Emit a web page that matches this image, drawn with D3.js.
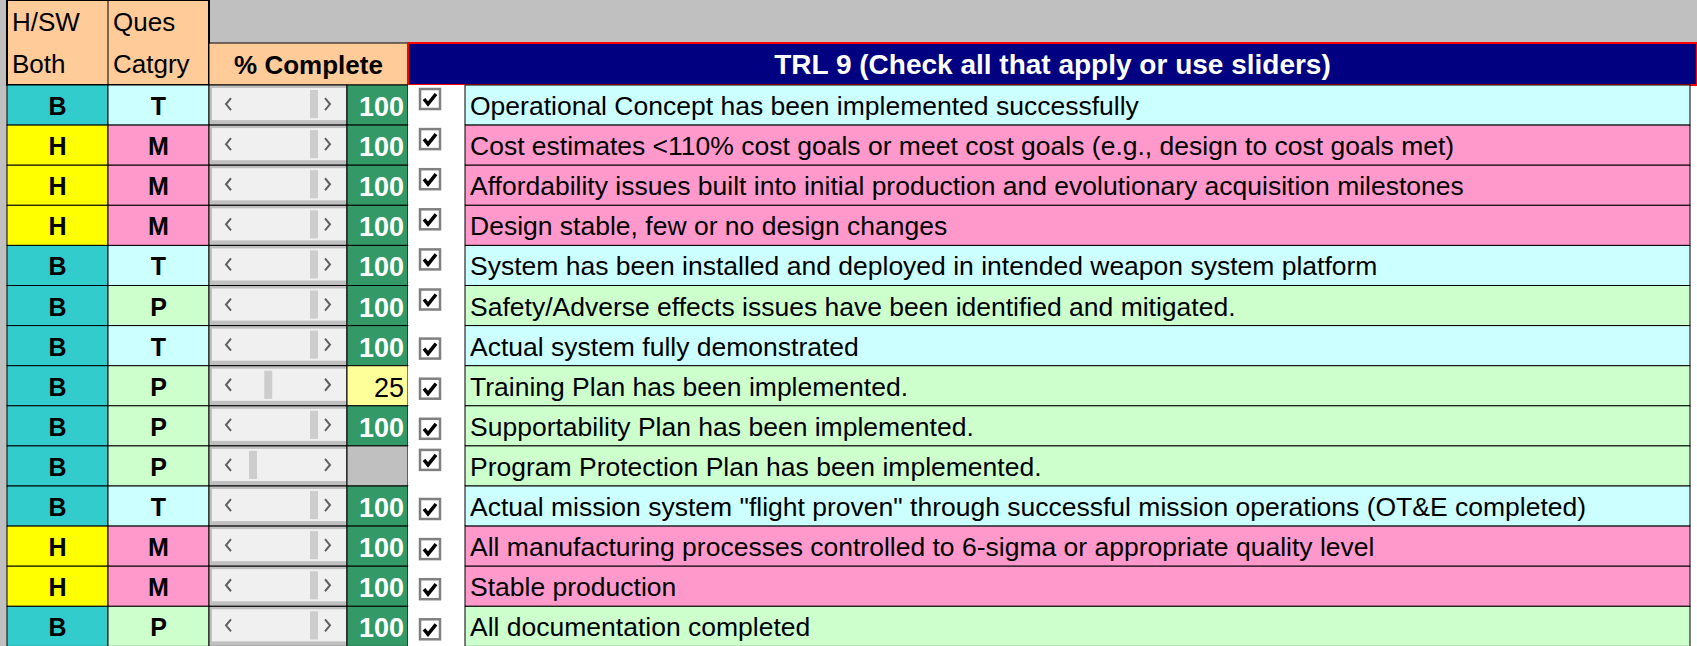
<!DOCTYPE html>
<html><head><meta charset="utf-8">
<script src="https://cdn.jsdelivr.net/npm/d3@7"></script>
<style>body{margin:0;background:#fff}svg{display:block;font-family:"Liberation Sans",Arial,sans-serif}</style>
</head><body><svg id="svg" width="1697" height="646"></svg>
<script>
const hw = ['B','H','H','H','B','B','B','B','B','B','B','H','H','B'];
const cat = ['T','M','M','M','T','P','T','P','P','P','T','M','M','P'];
const pct = [100,100,100,100,100,100,100,25,100,null,100,100,100,100];
const items = [
  'Operational Concept has been implemented successfully',
  'Cost estimates <110% cost goals or meet cost goals (e.g., design to cost goals met)',
  'Affordability issues built into initial production and evolutionary acquisition milestones',
  'Design stable, few or no design changes',
  'System has been installed and deployed in intended weapon system platform',
  'Safety/Adverse effects issues have been identified and mitigated.',
  'Actual system fully demonstrated',
  'Training Plan has been implemented.',
  'Supportability Plan has been implemented.',
  'Program Protection Plan has been implemented.',
  'Actual mission system "flight proven" through successful mission operations (OT&E completed)',
  'All manufacturing processes controlled to 6-sigma  or appropriate quality level',
  'Stable production',
  'All documentation completed'
];
const title = 'TRL 9 (Check all that apply or use sliders)';

const hwColor = {B:'#33CCCC', H:'#FFFF00'};
const catColor = {T:'#CCFFFF', M:'#FF99CC', P:'#CCFFCC'};

const svg = d3.select('#svg');
const cols = [7,108,209,347,408,465,1690];
const top0 = 85, rowH = 40.1;
const y = i => top0 + i * rowH;

// header
svg.append('rect').attr('x',0).attr('y',0).attr('width',1697).attr('height',646).attr('fill','#fff');
svg.append('rect').attr('x',cols[2]).attr('y',0).attr('width',1697-cols[2]).attr('height',43).attr('fill','#C0C0C0');
svg.append('rect').attr('x',0).attr('y',0).attr('width',7).attr('height',646).attr('fill','#C0C0C0');
svg.append('rect').attr('x',cols[0]).attr('y',0).attr('width',cols[2]-cols[0]).attr('height',top0).attr('fill','#FFCC99').attr('stroke','#000').attr('stroke-width',2);
svg.append('line').attr('x1',cols[1]).attr('x2',cols[1]).attr('y1',0).attr('y2',top0).attr('stroke','#000');
svg.append('rect').attr('x',cols[2]).attr('y',43).attr('width',cols[4]-cols[2]).attr('height',top0-43).attr('fill','#FFCC99').attr('stroke','#000').attr('stroke-width',1);
svg.append('rect').attr('x',cols[4]).attr('y',43).attr('width',1697-cols[4]).attr('height',top0-43).attr('fill','#000080').attr('stroke','#FF0000').attr('stroke-width',2);
const ht = [['H/SW',cols[0]+5,31],['Both',cols[0]+5,73],['Ques',cols[1]+5,31],['Catgry',cols[1]+5,73]];
ht.forEach(([t,x,yy]) => svg.append('text').attr('x',x).attr('y',yy).attr('font-size',26).text(t));
svg.append('text').attr('x',(cols[2]+cols[4])/2).attr('y',74).attr('text-anchor','middle').attr('font-size',26).attr('font-weight','bold').text('% Complete');
svg.append('text').attr('x',(cols[4]+1697)/2).attr('y',74).attr('text-anchor','middle').attr('font-size',28).attr('font-weight','bold').attr('fill','#fff').text(title);

const thumb = d3.scaleLinear().domain([0,100]).range([cols[2]+40, cols[2]+101]);

items.forEach((t,i) => {
  const g = svg.append('g').attr('transform',`translate(0,${y(i)})`);
  const cell = (x0,x1,fill) => g.append('rect').attr('x',x0).attr('y',0).attr('width',x1-x0).attr('height',rowH).attr('fill',fill).attr('stroke','#000').attr('stroke-width',1);
  cell(cols[0],cols[1],hwColor[hw[i]]);
  cell(cols[1],cols[2],catColor[cat[i]]);
  cell(cols[2],cols[3],'#C0C0C0');
  const v = pct[i];
  cell(cols[3],cols[4], v == null ? '#C0C0C0' : v < 100 ? '#FFFF99' : '#339966');
  g.append('rect').attr('x',cols[4]).attr('y',0).attr('width',cols[5]-cols[4]).attr('height',rowH).attr('fill','#fff');
  cell(cols[5],cols[6],catColor[cat[i]]);
  g.append('text').attr('x',(cols[0]+cols[1])/2).attr('y',30).attr('text-anchor','middle').attr('font-size',25).attr('font-weight','bold').text(hw[i]);
  g.append('text').attr('x',(cols[1]+cols[2])/2).attr('y',30).attr('text-anchor','middle').attr('font-size',25).attr('font-weight','bold').text(cat[i]);
  // slider
  g.append('rect').attr('x',cols[2]+3).attr('y',3).attr('width',cols[3]-cols[2]-4).attr('height',rowH-8).attr('fill','#F0F0F0');
  g.append('rect').attr('x',thumb(v == null ? 0 : v)).attr('y',5).attr('width',8).attr('height',rowH-12).attr('fill','#CDCDCD');
  g.append('path').attr('d',`M${cols[2]+22},${rowH/2-7}l-5,6l5,6`).attr('fill','none').attr('stroke','#606060').attr('stroke-width',2);
  g.append('path').attr('d',`M${cols[3]-22},${rowH/2-7}l5,6l-5,6`).attr('fill','none').attr('stroke','#606060').attr('stroke-width',2);
  if (v != null) g.append('text').attr('x',cols[4]-4).attr('y',31).attr('text-anchor','end').attr('font-size',27)
    .attr('font-weight', v < 100 ? 'normal' : 'bold').attr('fill', v < 100 ? '#000' : '#fff').text(v);
  // checkbox
  const cy = i < 6 || i === 9 ? 4 : 13;
  g.append('rect').attr('x',cols[4]+12).attr('y',cy).attr('width',20).attr('height',20).attr('fill','#fff').attr('stroke','#808080').attr('stroke-width',2.5);
  g.append('path').attr('d',`M${cols[4]+16},${cy+10}l4,5l8,-10`).attr('fill','none').attr('stroke','#000').attr('stroke-width',3.5);
  g.append('text').attr('x',cols[5]+5).attr('y',30).attr('font-size',26.5).text(t);
});
</script></body></html>
